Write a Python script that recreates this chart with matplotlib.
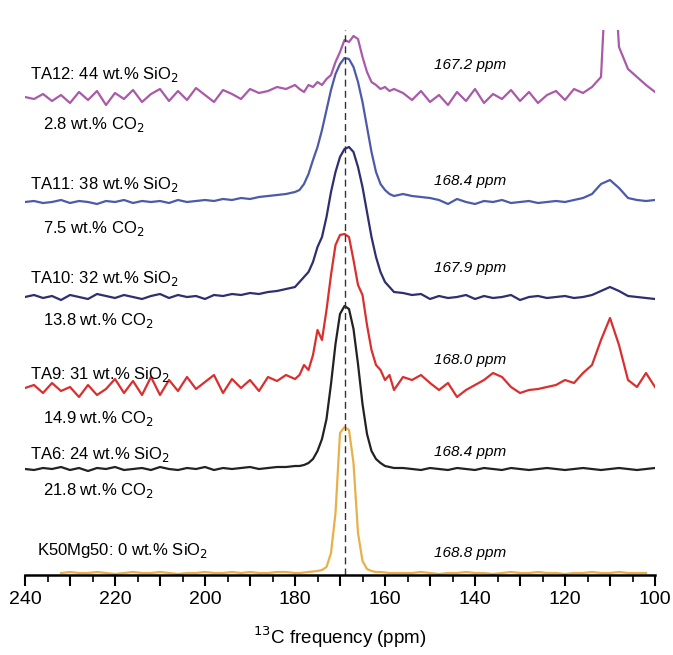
import numpy as np
import matplotlib.pyplot as plt

plt.rcParams['font.family'] = ['Liberation Sans', 'DejaVu Sans']

# chemical shift grid (ppm): coarse in the wings, fine over the carbonate peak
ppm = list(range(240, 179, -2)) + list(range(179, 157, -1)) + list(range(156, 99, -2))
nan = np.nan

# intensities (arbitrary units)
ta12 = ([0, -2, 3, -4, 2, -6, 5, -3, 6, -8, 4, -2, 7, -5, 3, 8, -4, 6, -3, 9, 2, -5, 7, 3, -2, 8, 4, 6, 10, 8, 12]
        + [8, 5, 12, 10, 15, 12, 18, 22, 35, 45, 57, 55, 61, 58, 40, 25, 15, 12, 8, 10, 6, 8]
        + [4, -3, 6, -5, 2, -8, 5, -4, 8, -6, 3, -2, 7, -4, 5, -6, 2, 6, -3, 8, 4, 10, 20, 200, 50, 28, 20, 12, 5])
ta11 = ([0, 1, -1, 0, 2, -1, 1, 0, -2, 1, 0, 2, -1, 1, 0, 1, -1, 2, 0, 1, 2, 1, 3, 2, 4, 3, 5, 6, 7, 8, 10]
        + [12, 18, 28, 42, 55, 72, 92, 112, 128, 138, 144, 143, 135, 120, 100, 75, 50, 30, 18, 12, 8, 6]
        + [8, 6, 5, 4, 2, -2, 3, 0, -2, 1, 0, 2, -1, 0, 1, -1, 0, 1, 0, 2, 4, 8, 18, 22, 14, 4, 2, 1, 2])
ta10 = ([0, 2, -1, 1, -3, 2, 0, -2, 3, 1, -1, 2, 0, -2, 1, 3, -1, 2, 0, 1, -2, 2, 1, 3, 2, 4, 3, 5, 6, 8, 10]
        + [15, 20, 25, 35, 50, 60, 80, 105, 125, 140, 148, 150, 145, 130, 110, 85, 60, 40, 25, 15, 10, 5]
        + [4, 2, 3, -2, 1, -1, 0, 2, -2, 1, -1, 0, 2, -3, 0, 1, -1, 0, 1, -1, 0, 2, 6, 10, 6, 1, 0, -1, -2])
ta9 = ([-3, 0, -8, 2, -6, -2, -12, 0, -10, -4, 6, -8, 4, -10, 8, -10, 5, -6, 8, -4, 3, 10, -8, 6, -3, 5, -6, 8, 4, 10, 6]
       + [10, 20, 15, 30, 55, 45, 75, 110, 140, 150, 151, 148, 125, 100, 90, 60, 35, 20, 15, 5, 10, -5]
       + [8, 5, 10, 2, -5, 2, -12, -5, 0, 5, 12, 8, -2, -8, -5, -4, -2, 0, 5, 2, 12, 20, 45, 67, 40, 5, -2, 12, -2])
ta6 = ([0, -1, 1, 0, 2, -1, 1, -2, 1, 0, 2, -1, 0, 1, -1, 2, 0, -1, 1, 0, 2, -1, 1, 0, 1, 2, 0, 1, 2, 2, 3]
       + [3, 4, 6, 10, 18, 30, 50, 85, 125, 155, 163, 160, 140, 105, 65, 35, 18, 10, 6, 3, 2, 1]
       + [1, 0, -1, 1, 0, -1, 1, 0, -1, 1, 0, -1, 1, 0, -1, 0, 1, 0, -1, 0, 1, 0, -1, 0, 1, 0, -1, 0, 1])
k50 = ([nan, nan, nan, nan, 0, 1, 0, 0, 1, 0, -1, 0, 1, 0, 0, 1, 0, -1, 0, 0, 1, 0, 0, 1, 0, 1, 0, 0, 1, 1, 0]
       + [0, 0.5, 1, 1.5, 2, 3, 6, 20, 60, 140, 146, 143, 110, 40, 12, 4, 2, 1, 1, 0.5, 0, 0]
       + [0, 0, 1, 0, -1, 0, 0, 1, 0, 0, -1, 0, 1, 0, 0, 1, 0, 0, -1, 0, 0, 1, 0, 0, 1, 0, 0, 0, nan])

series = [ta12, ta11, ta10, ta9, ta6, k50]
offsets = [478, 373, 278, 190, 106, 2]
colors = ['#a95aa8', '#4d5aa8', '#2e2f6e', '#d9302f', '#222222', '#e8b04a']
names = ['TA12: 44 wt.% SiO$_2$', 'TA11: 38 wt.% SiO$_2$', 'TA10: 32 wt.% SiO$_2$',
         'TA9: 31 wt.% SiO$_2$', 'TA6: 24 wt.% SiO$_2$', 'K50Mg50: 0 wt.% SiO$_2$']
co2 = ['2.8 wt.% CO$_2$', '7.5 wt.% CO$_2$', '13.8 wt.% CO$_2$', '14.9 wt.% CO$_2$', '21.8 wt.% CO$_2$', None]
shifts = ['167.2 ppm', '168.4 ppm', '167.9 ppm', '168.0 ppm', '168.4 ppm', '168.8 ppm']
name_y = [500, 390, 297, 200, 120, 25]
co2_y = [450, 347, 255, 157, 85, None]
shift_y = [510, 394, 307, 215, 123, 22]

fig = plt.figure(figsize=(6.73, 6.55), dpi=100)
ax = fig.add_axes([25 / 673, 1 - 575 / 655, 630 / 673, 545 / 655])

for y, off, c in zip(series, offsets, colors):
    ax.plot(ppm, np.array(y, dtype=float) + off, color=c, lw=1.6)

for i in range(len(names)):
    ax.text(238.9 if i < 5 else 237.3, name_y[i], names[i], fontsize=12, va='center')
    if co2[i]:
        ax.text(236, co2_y[i], co2[i], fontsize=12, va='center')
    ax.text(141, shift_y[i], shifts[i], fontsize=11, style='italic', ha='center', va='center')

ax.axvline(168.8, color='#333333', lw=1, ls=(0, (5, 3)))

ax.set_xlim(240, 100)
ax.set_ylim(0, 545)
for s in ['top', 'left', 'right']:
    ax.spines[s].set_visible(False)
ax.spines['bottom'].set_linewidth(1.8)
ax.set_yticks([])
ax.set_xticks(range(240, 99, -10))
ax.set_xticklabels([str(v) if v % 20 == 0 else '' for v in range(240, 99, -10)])
ax.set_xticks(range(235, 100, -10), minor=True)
ax.tick_params(axis='x', which='major', length=8, width=1.5, labelsize=14)
ax.tick_params(axis='x', which='minor', length=5, width=1.2)
ax.set_xlabel('$^{13}$C frequency (ppm)', fontsize=13.5, labelpad=12)

fig.savefig('out.png', dpi=100)
